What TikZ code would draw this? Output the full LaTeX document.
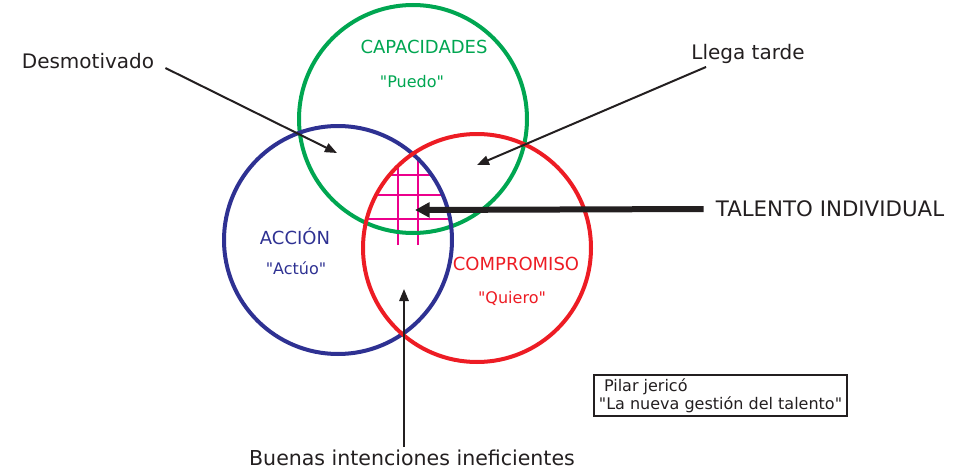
\documentclass[tikz,border=0pt]{standalone}
\usepackage{fontspec}
\setmainfont{DejaVu Sans}
\usepackage{tikz}
\usetikzlibrary{arrows.meta}

\definecolor{capgreen}{RGB}{0,166,81}
\definecolor{accblue}{RGB}{46,49,146}
\definecolor{comred}{RGB}{237,28,36}
\definecolor{talmag}{RGB}{236,0,140}
\definecolor{txtgray}{RGB}{35,31,32}

\begin{document}
\begin{tikzpicture}[x={0.75pt},y={-0.75pt},
		lbl/.style={text=txtgray,font=\fontsize{15}{18}\selectfont,inner sep=0pt},
		ttl/.style={font=\fontsize{13.5}{16}\selectfont,inner sep=0pt},
		quo/.style={font=\fontsize{12}{14}\selectfont,inner sep=0pt},
		ring/.style={line width=3pt},
		arr/.style={draw=txtgray,line width=1.5pt,-{Triangle[length=9pt,width=7pt]}}]
		\useasboundingbox (0,0) rectangle (968,471);
		% Grid in the middle
		\begin{scope}
			\clip (477,248) circle[radius=114];
			\clip (338,240) circle[radius=114];
			\draw[talmag,line width=2pt] (398,150) -- (398,245) (418,150) -- (418,245);
			\draw[talmag,line width=2pt] (360,175) -- (460,175) (360,195) -- (460,195) (360,219) -- (460,219);
		\end{scope}
		% Draw circles
		\draw[ring,capgreen] (413,119) circle[radius=114];
		\draw[ring,accblue] (338,240) circle[radius=114];
		\draw[ring,comred] (477,248) circle[radius=114];
		% Circle labels
		\node[ttl,capgreen] (capac) at (424,47) {CAPACIDADES};
		\node[quo,capgreen] (capq) at (412,82) {\textquotedbl Puedo\textquotedbl};
		\node[ttl,accblue] (accion) at (295,236) {ACCIÓN};
		\node[quo,accblue] (accq) at (296,268) {\textquotedbl Actúo\textquotedbl};
		\node[ttl,comred] (compr) at (516,264) {COMPROMISO};
		\node[quo,comred] (comprq) at (512,298) {\textquotedbl Quiero\textquotedbl};
		% Outside labels
		\node[lbl] (desmot) at (88,61) {Desmotivado};
		\node[lbl] (llega) at (748,54) {Llega tarde};
		\node[lbl,font=\fontsize{16}{18}\selectfont] (talento) at (830,209) {TALENTO INDIVIDUAL};
		\node[lbl,font=\fontsize{15.4}{18}\selectfont] (buenas) at (412,458) {Buenas intenciones ineficientes};
		\coordinate (tipdes) at (337,153);
		\coordinate (tipllega) at (477,165);
		\coordinate (tiptal) at (415,210);
		\coordinate (tipbuen) at (404,289);
		% Arrows
		\draw[arr] ([shift={(11,7)}]desmot.east) -- (tipdes);
		\draw[arr] ([shift={(15,3)}]llega.south west) -- (tipllega);
		\draw[draw=txtgray,line width=4.5pt,-{Triangle[length=11pt,width=11pt]}] ([xshift=-9pt]talento.west) -- (tiptal);
		\draw[arr] ([xshift=-6pt,yshift=2pt]buenas.north) -- (tipbuen);
		% Source box
		\node[draw=txtgray,line width=1.5pt,text=txtgray,align=left,
			font=\fontsize{12}{13.5}\selectfont,inner sep=2pt,
			minimum width=190pt,minimum height=30.75pt] (fuente) at (720.5,395.5)
			{\ Pilar jericó\\\textquotedbl La nueva gestión del talento\textquotedbl};
	\end{tikzpicture}
\end{document}
